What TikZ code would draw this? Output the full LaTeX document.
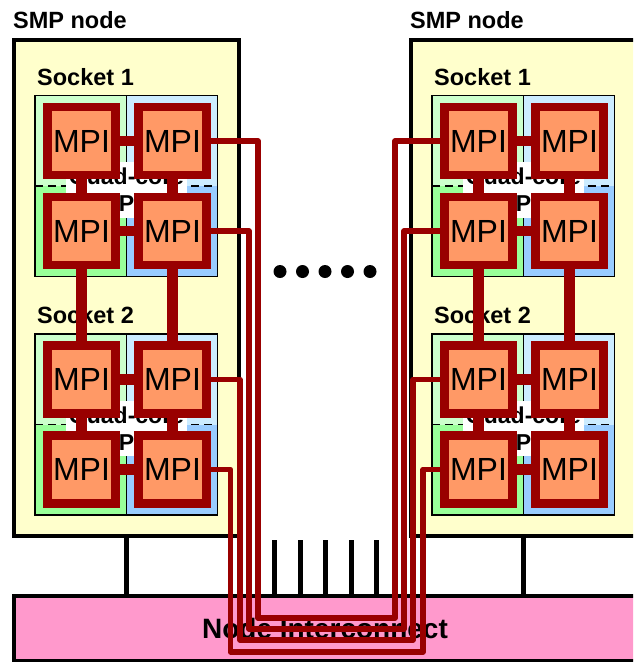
\documentclass[tikz,border=0pt]{standalone}
\usepackage{fontspec}
\setmainfont{Liberation Sans}
\usepackage{xcolor}
\usepackage{tikz}

\definecolor{smpyellow}{HTML}{FFFFCC}
\definecolor{netpink}{HTML}{FF99CC}
\definecolor{mpiorange}{HTML}{FF9966}
\definecolor{mpired}{HTML}{990000}
\definecolor{coreA}{HTML}{CCFFCC}
\definecolor{coreB}{HTML}{CCECFF}
\definecolor{coreC}{HTML}{99FF99}
\definecolor{coreD}{HTML}{99CCFF}

\tikzset{
    smpbox/.style={draw=black, line width=4.5pt, fill=smpyellow,
        minimum width=225pt, minimum height=496pt, inner sep=0pt},
    netbox/.style={draw=black, line width=4.5pt, fill=netpink,
        minimum width=622pt, minimum height=65pt, inner sep=0pt,
        font=\fontsize{28}{28}\selectfont\bfseries},
    lbl/.style={inner sep=0pt, anchor=base west,
        font=\fontsize{23.5}{27}\selectfont\bfseries},
    cpulbl/.style={fill=white, inner xsep=3pt, inner ysep=6pt, align=center,
        font=\fontsize{23}{27}\selectfont\bfseries},
    mpi/.style={draw=mpired, fill=mpiorange, line width=8.5pt,
        minimum size=68pt, inner sep=0pt,
        font=\fontsize{32}{32}\selectfont},
    bar/.style={draw=mpired, line width=10.5pt},
    wire/.style={draw=mpired, line width=5.5pt, line join=round},
    bus/.style={draw=black, line width=5pt}
}

\begin{document}
\begin{tikzpicture}[x=1pt, y=-1pt]

    \useasboundingbox (0,0) rectangle (633,662);
    \clip (0,0) rectangle (633,662);

    % SMP nodes and interconnect
    \node[smpbox] (smpL) at (126.5,288) {};
    \node[smpbox] (smpR) at (523.5,288) {};
    \node[netbox] (net) at (325,628.5) {Node Interconnect};

    % Links to the interconnect
    \draw[bus] (smpL.south) -- (smpL.south |- net.north);
    \draw[bus] (smpR.south) -- (smpR.south |- net.north);
    \foreach \x in {274.3,300,325.7,351,376.7}
        \draw[bus] (\x,540) -- (\x,540 |- net.north);

    % Dots between the nodes
    \foreach \x in {280,302.5,325,347.5,370}
        \fill (\x,271.5) circle (6.5);

    % Labels, sockets and CPUs
    \foreach \side/\dx in {L/0,R/397} {
        \node[lbl] (smp\side lbl) at (13+\dx,28) {SMP node};
        \foreach \s/\dy in {1/0,2/238.5} {
            \begin{scope}[shift={(\dx,\dy)}]
                \node[lbl] (sock\side\s) at (37,85) {Socket \s};
                % four cores
                \fill[coreA] (35,95.5) rectangle (126.5,186);
                \fill[coreB] (126.5,95.5) rectangle (217.5,186);
                \fill[coreC] (35,186) rectangle (126.5,276.5);
                \fill[coreD] (126.5,186) rectangle (217.5,276.5);
                \draw[line width=1.5pt] (126.5,95.5) -- (126.5,276.5);
                \draw[line width=1.5pt, dash pattern=on 8pt off 5pt]
                    (35,186) -- (217.5,186);
                \draw[line width=1.5pt] (35,95.5) rectangle (217.5,276.5);
                \node[cpulbl] (cpu\side\s) at (126.5,190) {Quad-core\\CPU};
            \end{scope}
        }
    }

    % MPI processes
    \foreach \side/\dx in {L/0,R/397}
        \foreach \s/\dy in {1/0,2/238.5}
            \foreach \r/\y in {1/141,2/231}
                \foreach \c/\x in {1/81.5,2/172.5}
                    \node[mpi] (\side\s\r\c) at (\x+\dx,\y+\dy) {MPI};

    % Links inside each node
    \foreach \side in {L,R} {
        \foreach \s in {1,2}
            \foreach \r in {1,2}
                \draw[bar] (\side\s\r1.east) -- (\side\s\r2.west);
        \foreach \c in {1,2} {
            \draw[bar] (\side11\c.south) -- (\side12\c.north);
            \draw[bar] (\side12\c.south) -- (\side21\c.north);
            \draw[bar] (\side21\c.south) -- (\side22\c.north);
        }
    }

    % Links through the interconnect
    \foreach \s/\r/\xl/\xr/\yb in {1/1/258/395/618, 1/2/249/404/629,
                                   2/1/240/413/640, 2/2/230.5/423/652}
        \draw[wire] (L\s\r2.east) -| (\xl,\yb) -- (\xr,\yb) |- (R\s\r1.west);

\end{tikzpicture}
\end{document}
